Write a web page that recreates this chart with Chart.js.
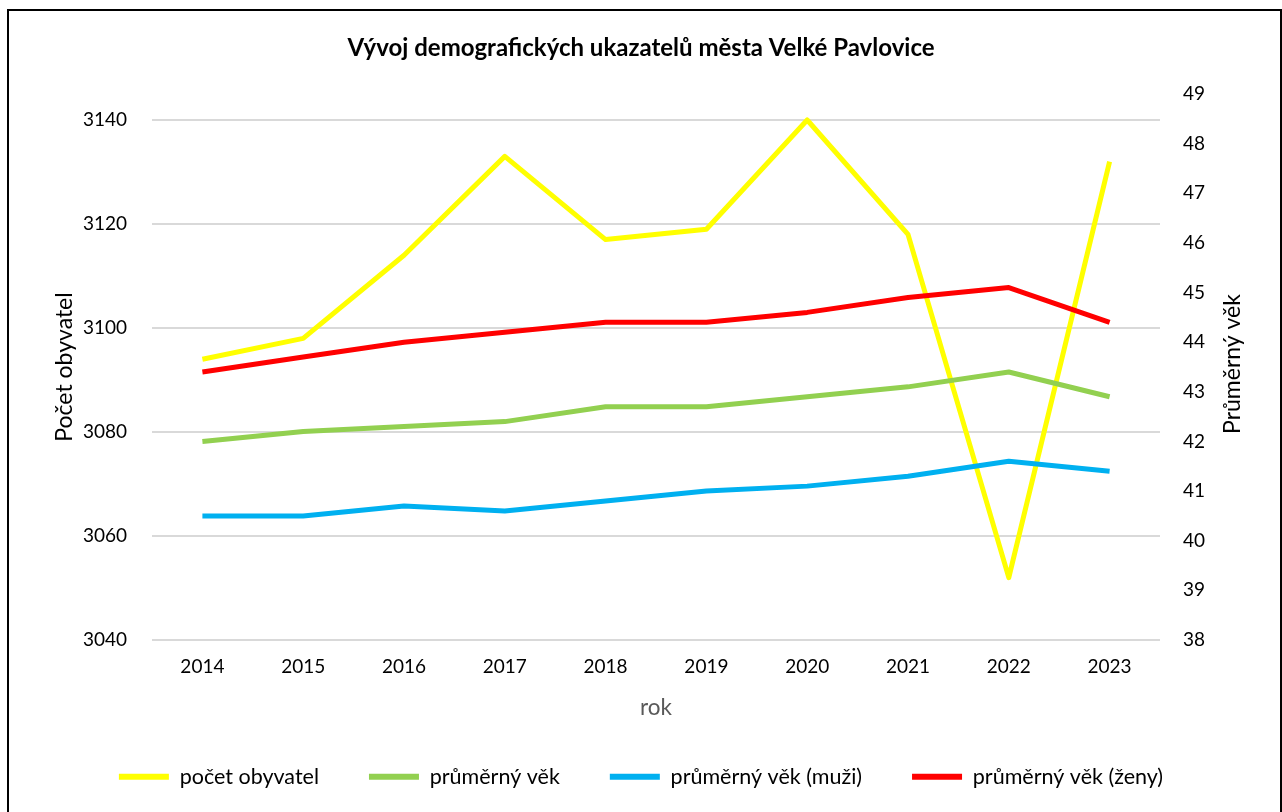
<!DOCTYPE html>
<html>
<head>
<meta charset="utf-8">
<script src="https://cdn.jsdelivr.net/npm/chart.js@4"></script>
<style>
  html, body { margin: 0; padding: 0; background: #fff; overflow: hidden; }
  #wrap { position: relative; width: 1282px; height: 812px; }
  #frame {
    position: absolute; left: 7px; top: 9px; width: 1271px; height: 830px;
    border: 2px solid #000; pointer-events: none;
  }
  canvas { position: absolute; left: 0; top: 0; }
</style>
</head>
<body>
<div id="wrap">
  <canvas id="chart" width="1282" height="812"></canvas>
  <div id="frame"></div>
</div>
<script>
// data
const years = ["2014", "2015", "2016", "2017", "2018", "2019", "2020", "2021", "2022", "2023"];
const population = [3094, 3098, 3114, 3133, 3117, 3119, 3140, 3118, 3052, 3132];
const avgAge = [42.0, 42.2, 42.3, 42.4, 42.7, 42.7, 42.9, 43.1, 43.4, 42.9];
const avgAgeMen = [40.5, 40.5, 40.7, 40.6, 40.8, 41.0, 41.1, 41.3, 41.6, 41.4];
const avgAgeWomen = [43.4, 43.7, 44.0, 44.2, 44.4, 44.4, 44.6, 44.9, 45.1, 44.4];

const leftTicks = [3040, 3060, 3080, 3100, 3120, 3140];
const rightTicks = [38, 39, 40, 41, 42, 43, 44, 45, 46, 47, 48, 49];

const FONT = "Lato, 'Open Sans', sans-serif";
const RIGHT_TITLE = "Průměrný věk";

const line = (label, data, color, axis, order) => ({
  label,
  data,
  yAxisID: axis,
  borderColor: color,
  backgroundColor: color,
  borderWidth: 5,
  borderJoinStyle: "round",
  pointRadius: 0,
  tension: 0,
  order,
});

// right axis title reads bottom-to-top like the left one
const rightTitlePlugin = {
  id: "rightTitle",
  afterDraw(chart) {
    const { ctx, chartArea, scales } = chart;
    ctx.save();
    ctx.translate(scales.y1.right - 29, (chartArea.top + chartArea.bottom) / 2 - 3);
    ctx.rotate(-Math.PI / 2);
    ctx.font = "23px " + FONT;
    ctx.fillStyle = "#000";
    ctx.textAlign = "center";
    ctx.textBaseline = "middle";
    ctx.fillText(RIGHT_TITLE, 0, 0);
    ctx.restore();
  },
};

const ctx = document.getElementById("chart").getContext("2d");
new Chart(ctx, {
  type: "line",
  data: {
    labels: years,
    datasets: [
      line("počet obyvatel", population, "#FFFF00", "y", 3),
      line("průměrný věk", avgAge, "#92D050", "y1", 2),
      line("průměrný věk (muži)", avgAgeMen, "#00B0F0", "y1", 1),
      line("průměrný věk (ženy)", avgAgeWomen, "#FF0000", "y1", 0),
    ],
  },
  plugins: [rightTitlePlugin],
  options: {
    responsive: false,
    animation: false,
    devicePixelRatio: 1,
    layout: { padding: { left: 20, right: 20, top: 20, bottom: 14.5 } },
    plugins: {
      title: {
        display: true,
        text: "Vývoj demografických ukazatelů města Velké Pavlovice",
        color: "#000",
        font: { family: FONT, size: 24, weight: "bold" },
        padding: { top: 13.6, bottom: 31.6 },
      },
      legend: {
        position: "bottom",
        labels: {
          boxWidth: 50,
          boxHeight: 6,
          padding: 50,
          color: "#1a1a1a",
          font: { family: FONT, size: 21.5 },
          generateLabels: (chart) =>
            chart.data.datasets.map((ds, i) => ({
              text: ds.label,
              fillStyle: ds.borderColor,
              strokeStyle: ds.borderColor,
              lineWidth: 0,
              hidden: false,
              datasetIndex: i,
            })),
        },
      },
      tooltip: { enabled: false },
    },
    scales: {
      x: {
        offset: true,
        grid: { display: false, drawTicks: false },
        border: { display: false },
        ticks: { color: "#000", padding: 15, font: { family: FONT, size: 19 } },
        title: {
          display: true,
          text: "rok",
          color: "#595959",
          font: { family: FONT, size: 22.5 },
          padding: { top: 0, bottom: -5 },
        },
        afterFit: (scale) => { scale.height = 76; },
      },
      y: {
        position: "left",
        min: 3040,
        max: 3145,
        afterBuildTicks: (scale) => { scale.ticks = leftTicks.map((v) => ({ value: v })); },
        grid: { color: "#d9d9d9", lineWidth: 2, drawTicks: false },
        border: { display: false },
        ticks: {
          color: "#000",
          padding: 25,
          font: { family: FONT, size: 19 },
          callback: (v) => String(v),
        },
        title: {
          display: true,
          text: "Počet obyvatel",
          color: "#000",
          font: { family: FONT, size: 23 },
          padding: { top: 31, bottom: 0 },
        },
        afterFit: (scale) => { scale.width = 132; },
      },
      y1: {
        position: "right",
        min: 38,
        max: 49,
        afterBuildTicks: (scale) => { scale.ticks = rightTicks.map((v) => ({ value: v })); },
        grid: { display: false, drawTicks: false },
        border: { display: false },
        ticks: { color: "#000", padding: 23, font: { family: FONT, size: 19 } },
        afterFit: (scale) => { scale.width = 102; },
      },
    },
  },
});
</script>
</body>
</html>
